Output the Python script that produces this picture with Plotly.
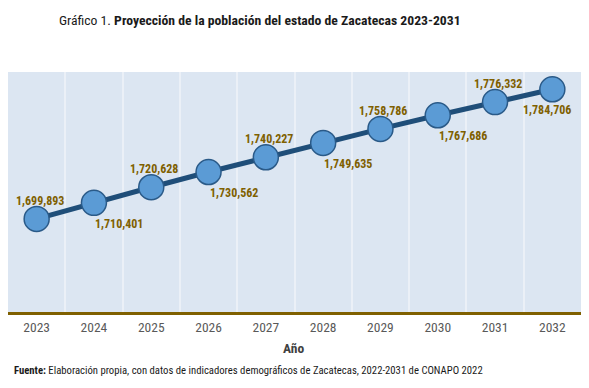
import plotly.graph_objects as go

years = [2023, 2024, 2025, 2026, 2027, 2028, 2029, 2030, 2031, 2032]
population = [1699893, 1710401, 1720628, 1730562, 1740227, 1749635, 1758786, 1767686, 1776332, 1784706]
label_above = [True, False, True, False, True, False, True, False, True, False]

font_main = "Roboto Condensed, Open Sans"

fig = go.Figure()
fig.add_trace(go.Scatter(
    x=years, y=population, mode="lines+markers",
    line=dict(color="#1F4E79", width=5),
    marker=dict(size=25, color="#5B9BD5", line=dict(color="#2A5A88", width=1.5)),
    hoverinfo="skip", showlegend=False,
))

n = len(years)
for i, (x, y, above) in enumerate(zip(years, population, label_above)):
    if above:
        xs, ys = 3, 18
    else:
        xs, ys = (25 if i < n - 1 else -5), -21
    fig.add_annotation(
        x=x, y=y, xref="x", yref="y", text=f"<b>{y:,}</b>", showarrow=False,
        font=dict(family=font_main, size=12, color="#7F6000"),
        xshift=xs, yshift=ys,
    )

fig.update_layout(
    width=589, height=388, autosize=False,
    margin=dict(l=8, r=8, t=72, b=76),
    paper_bgcolor="white", plot_bgcolor="#DCE6F2",
    xaxis=dict(
        range=[2022.5, 2032.5], tickmode="array", tickvals=years,
        ticktext=[str(v) for v in years], showgrid=False, zeroline=False,
        showline=True, linecolor="#7F6000", linewidth=3,
        tickfont=dict(family=font_main, size=13.5, color="#595959"),
        ticks="", ticklabelstandoff=1,
        minor=dict(tick0=2022.5, dtick=1, showgrid=True, gridcolor="#EBF0F7", gridwidth=2, ticks=""),
        fixedrange=True,
    ),
    yaxis=dict(
        range=[1639000, 1796000], showgrid=False, zeroline=False,
        showticklabels=False, fixedrange=True,
    ),
)

fig.add_annotation(
    xref="paper", yref="paper", x=(57 - 8) / 573, y=1 + (72 - 20) / 240,
    xanchor="left", yanchor="middle", showarrow=False,
    text="Gráfico 1. <b>Proyección de la población del estado de Zacatecas 2023-2031</b>",
    font=dict(family=font_main, size=13.7, color="#1A1A1A"),
)
fig.add_annotation(
    xref="paper", yref="paper", x=(293 - 8) / 573, y=-(348 - 312) / 240,
    xanchor="center", yanchor="middle", showarrow=False,
    text="<b>Año</b>", font=dict(family=font_main, size=13.5, color="#404040"),
)
fig.add_annotation(
    xref="paper", yref="paper", x=(12 - 8) / 573, y=-(370 - 312) / 240,
    xanchor="left", yanchor="middle", showarrow=False,
    text="<b>Fuente:</b> Elaboración propia, con datos de indicadores demográficos de Zacatecas, 2022-2031 de CONAPO 2022",
    font=dict(family=font_main, size=10.7, color="#1A1A1A"),
)

fig.write_html("out.html", post_script="document.body.style.margin='0';",
               config={"displayModeBar": False})
